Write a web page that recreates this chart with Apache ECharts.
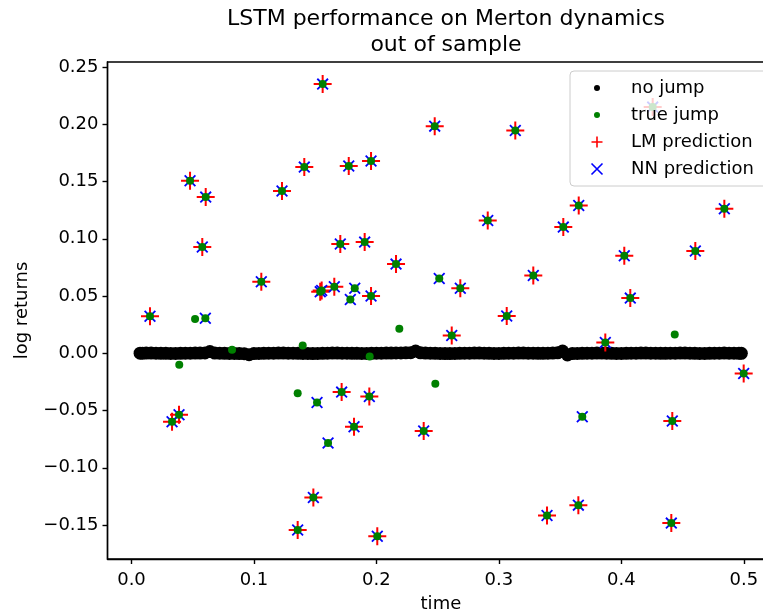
<!DOCTYPE html>
<html>
<head>
<meta charset="utf-8">
<script src="https://cdn.jsdelivr.net/npm/echarts@6/dist/echarts.min.js"></script>
<style>
  html, body { margin: 0; padding: 0; background: #fff; }
  #main { width: 763px; height: 614px; }
</style>
</head>
<body>
<div id="main"></div>
<script>
// time grid of the out of sample path (no jump days)
var noJumpTime = [
  0.007,0.009,0.012,0.016,0.020,0.024,0.028,0.032,0.036,0.040,
  0.044,0.048,0.052,0.056,0.060,0.064,0.068,0.072,0.076,0.080,
  0.084,0.088,0.092,0.096,0.100,0.104,0.108,0.112,0.116,0.120,
  0.124,0.128,0.132,0.136,0.140,0.144,0.148,0.152,0.156,0.160,
  0.164,0.168,0.172,0.176,0.180,0.184,0.188,0.192,0.196,0.200,
  0.204,0.208,0.212,0.216,0.220,0.224,0.228,0.232,0.236,0.240,
  0.244,0.248,0.252,0.256,0.260,0.264,0.268,0.272,0.276,0.280,
  0.284,0.288,0.292,0.296,0.300,0.304,0.308,0.312,0.316,0.320,
  0.324,0.328,0.332,0.336,0.340,0.344,0.348,0.352,0.356,0.360,
  0.364,0.368,0.372,0.376,0.380,0.384,0.388,0.392,0.396,0.400,
  0.404,0.408,0.412,0.416,0.420,0.424,0.428,0.432,0.436,0.440,
  0.444,0.448,0.452,0.456,0.460,0.464,0.468,0.472,0.476,0.480,
  0.484,0.488,0.492,0.496,0.498
];
var noJumpReturn = [
  0.0001,0.0001,0.0002,0.0002,0.0001,0.0000,0.0000,-0.0001,-0.0001,0.0000,
  0.0001,0.0001,0.0002,0.0002,0.0003,0.0015,0.0002,0.0001,0.0000,-0.0001,
  -0.0001,-0.0002,-0.0003,-0.0012,-0.0002,-0.0001,0.0000,0.0001,0.0001,0.0002,
  0.0002,0.0001,0.0001,0.0000,-0.0001,-0.0001,-0.0002,-0.0001,0.0000,0.0001,
  0.0002,0.0002,0.0001,0.0001,0.0000,0.0000,-0.0001,-0.0001,0.0000,0.0001,
  0.0001,0.0002,0.0002,0.0003,0.0003,0.0004,0.0005,0.0020,0.0004,0.0002,
  0.0001,0.0000,-0.0001,-0.0002,-0.0002,-0.0001,0.0000,0.0001,0.0001,0.0002,
  0.0002,0.0001,0.0000,-0.0001,-0.0001,0.0000,0.0001,0.0001,0.0002,0.0002,
  0.0001,0.0001,0.0000,0.0000,0.0001,0.0002,0.0004,0.0020,-0.0015,-0.0002,
  -0.0001,0.0000,0.0001,0.0001,0.0002,0.0002,0.0001,0.0000,-0.0001,-0.0001,
  0.0000,0.0001,0.0001,0.0002,0.0002,0.0001,0.0001,0.0000,0.0000,0.0001,
  0.0001,0.0002,0.0002,0.0001,0.0000,-0.0001,-0.0001,0.0000,0.0001,0.0001,
  0.0002,0.0001,0.0001,0.0000,0.0000
];

// true jumps found by both LM and NN
var bothHits = [
  [0.0151, 0.0323], [0.0578, 0.0928], [0.1060, 0.0624], [0.1541, 0.0538],
  [0.1553, 0.0548], [0.0478, 0.1507], [0.0606, 0.1364], [0.1229, 0.1417],
  [0.1411, 0.1626], [0.1561, 0.2351], [0.2476, 0.1984], [0.3134, 0.1946],
  [0.1774, 0.1635], [0.1956, 0.1679], [0.2909, 0.1160], [0.4256, 0.2150],
  [0.3652, 0.1291], [0.4841, 0.1262], [0.3526, 0.1102], [0.4024, 0.0852],
  [0.4604, 0.0893], [0.3281, 0.0679], [0.4073, 0.0482], [0.3064, 0.0325],
  [0.3869, 0.0094], [0.4999, -0.0176], [0.1705, 0.0954], [0.1904, 0.0971],
  [0.2160, 0.0779], [0.2685, 0.0569], [0.1656, 0.0581], [0.1956, 0.0500],
  [0.2615, 0.0155], [0.0331, -0.0598], [0.0388, -0.0537], [0.1485, -0.1259],
  [0.1357, -0.1544], [0.1716, -0.0339], [0.1942, -0.0377], [0.1817, -0.0642],
  [0.2386, -0.0679], [0.2007, -0.1597], [0.4416, -0.0592], [0.3393, -0.1417],
  [0.3649, -0.1326], [0.4408, -0.1483]
];
// true jumps found only by NN
var nnOnly = [
  [0.0603, 0.0307], [0.2513, 0.0653], [0.1823, 0.0569], [0.1787, 0.0470],
  [0.1515, -0.0430], [0.1605, -0.0784], [0.3681, -0.0555]
];
// true jumps nobody found
var missed = [
  [0.0519, 0.0299], [0.0390, -0.0100], [0.0821, 0.0031], [0.1398, 0.0068],
  [0.4436, 0.0164], [0.2187, 0.0214], [0.1945, -0.0028], [0.2481, -0.0266],
  [0.1357, -0.0348]
];

var xTicks = [0, 0.1, 0.2, 0.3, 0.4, 0.5];
var yTicks = [-0.15, -0.1, -0.05, 0, 0.05, 0.1, 0.15, 0.2, 0.25];

var noJump = noJumpTime.map(function (t, i) { return [t, noJumpReturn[i]]; });
var trueJump = bothHits.concat(nnOnly, missed);
var lmPred = bothHits;
var nnPred = bothHits.concat(nnOnly);

// marker shapes
var plusPath = 'path://M8,0h2v18h-2zM0,8h18v2h-18z';
var crossPath = 'path://M1.24,-0.04L12.04,10.76L10.76,12.04L-0.04,1.24Z' +
    'M10.76,-0.04L12.04,1.24L1.24,12.04L-0.04,10.76Z';
// legend icons, padded to a 14x14 box
var pad = 'M0,0h0.01v0.01h-0.01zM13.99,13.99h0.01v0.01h-0.01z';
var iconDot = 'path://' + pad + 'M4,7a3,3 0 1,0 6,0a3,3 0 1,0 -6,0z';
var iconPlus = 'path://' + pad + 'M6.2,1.5h1.6v11h-1.6zM1.5,6.2h11v1.6h-11z';
var iconCross = 'path://' + pad + 'M2.07,0.93L13.07,11.93L11.93,13.07L0.93,2.07Z' +
    'M11.93,0.93L13.07,2.07L2.07,13.07L0.93,11.93Z';

function fmtY(v) {
    var s = Math.abs(v).toFixed(2);
    return v < -1e-9 ? '\u2212' + s : s;
}

function markStyle(color) {
    return { color: color, opacity: 1, borderWidth: 0, borderColor: color, shadowBlur: 0 };
}

var font = 'DejaVu Sans';
var myChart = echarts.init(document.getElementById('main'), null, { renderer: 'canvas' });
var option = {
    animation: false,
    backgroundColor: '#ffffff',
    title: {
        text: 'LSTM performance on Merton dynamics\nout of sample',
        left: 441,
        top: 1,
        textAlign: 'center',
        textStyle: { fontFamily: font, fontSize: 22, fontWeight: 'normal', color: '#000', lineHeight: 26 }
    },
    legend: {
        left: 570,
        top: 71,
        orient: 'vertical',
        itemWidth: 14,
        itemHeight: 14,
        itemGap: 9,
        padding: [8, 18, 8, 20],
        backgroundColor: 'rgba(255,255,255,0.8)',
        borderColor: '#cccccc',
        borderWidth: 1,
        borderRadius: 4,
        textStyle: { fontFamily: font, fontSize: 18, color: '#000', lineHeight: 14, padding: [0, 0, 0, 22] },
        data: [
            { name: 'no jump', icon: iconDot },
            { name: 'true jump', icon: iconDot },
            { name: 'LM prediction', icon: iconPlus },
            { name: 'NN prediction', icon: iconCross }
        ]
    },
    grid: {
        left: 107.5,
        top: 62,
        right: -11.3,
        bottom: 55,
        show: true,
        borderColor: '#000',
        borderWidth: 1.4,
        outerBoundsMode: 'none'
    },
    xAxis: {
        type: 'value',
        min: -0.0196,
        max: 0.5249,
        name: 'time',
        nameLocation: 'middle',
        nameGap: 36,
        nameTextStyle: { fontFamily: font, fontSize: 18, color: '#000' },
        axisLine: { show: true, onZero: false, lineStyle: { color: '#000', width: 1.4 } },
        axisTick: { show: true, length: 5, customValues: xTicks, lineStyle: { color: '#000', width: 1.4 } },
        axisLabel: {
            customValues: xTicks, margin: 12, color: '#000', fontFamily: font, fontSize: 18,
            formatter: function (v) { return v.toFixed(1); }
        },
        splitLine: { show: false }
    },
    yAxis: {
        type: 'value',
        min: -0.17965,
        max: 0.25441,
        name: 'log returns',
        nameLocation: 'middle',
        nameGap: 76,
        nameTextStyle: { fontFamily: font, fontSize: 18, color: '#000' },
        axisLine: { show: true, onZero: false, lineStyle: { color: '#000', width: 1.4 } },
        axisTick: { show: true, length: 5, customValues: yTicks, lineStyle: { color: '#000', width: 1.4 } },
        axisLabel: {
            customValues: yTicks, margin: 9, color: '#000', fontFamily: font, fontSize: 18,
            formatter: fmtY
        },
        splitLine: { show: false }
    },
    series: [
        {
            name: 'no jump', type: 'scatter', data: noJump,
            symbol: 'circle', symbolSize: 13, itemStyle: markStyle('#000000')
        },
        {
            name: 'LM prediction', type: 'scatter', data: lmPred,
            symbol: plusPath, symbolSize: 18, itemStyle: markStyle('#ff0000')
        },
        {
            name: 'NN prediction', type: 'scatter', data: nnPred,
            symbol: crossPath, symbolSize: 12, itemStyle: markStyle('#0000ff')
        },
        {
            name: 'true jump', type: 'scatter', data: trueJump,
            symbol: 'circle', symbolSize: 8, itemStyle: markStyle('#008000')
        }
    ]
};
myChart.setOption(option);
</script>
</body>
</html>
